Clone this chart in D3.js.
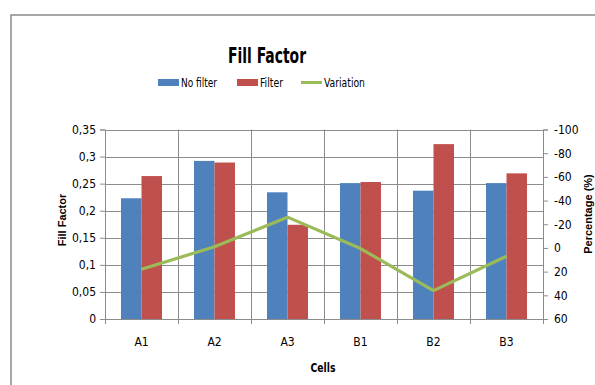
<!DOCTYPE html>
<html><head><meta charset="utf-8">
<script src="https://cdn.jsdelivr.net/npm/d3@7"></script>
<style>
html,body{margin:0;padding:0;background:#fff;}
svg{display:block;}
text{font-family:"Liberation Sans Narrow","DejaVu Sans Condensed","Liberation Sans",sans-serif;fill:#000;}
</style></head>
<body>
<svg id="c" width="595" height="385"></svg>
<script>
const categories = ["A1","A2","A3","B1","B2","B3"];
const noFilter = [0.223,0.292,0.234,0.251,0.237,0.251];
const filter = [0.264,0.289,0.174,0.253,0.323,0.269];
const variation = [18,-1,-26,0.5,36,7];
const leftTicks = [0,0.05,0.1,0.15,0.2,0.25,0.3,0.35];
const leftTickLabels = ["0","0,05","0,1","0,15","0,2","0,25","0,3","0,35"];
const rightTicks = [-100,-80,-60,-40,-20,0,20,40,60];
const seriesNames = ["No filter","Filter","Variation"];

const svg = d3.select("#c");
const L=105, R=543, T=129.5, B=319;
const blue="#4F81BD", red="#C0504D", green="#9BBB59", grid="#8c8c8c";

// frame
svg.append("path").attr("d","M11,385 L11,15 L600,15").attr("fill","none").attr("stroke","#8a8a8a").attr("stroke-width",1.5);

const x0 = d3.scaleBand().domain(categories).range([L,R]).paddingInner(0.438).paddingOuter(0.219);
const x1 = d3.scaleBand().domain([0,1]).range([0,x0.bandwidth()]);
const y = d3.scaleLinear().domain([0,0.35]).range([B,T]);
const yR = d3.scaleLinear().domain([-100,60]).range([T,B]);
const step = (R-L)/categories.length;

// horizontal gridlines
svg.append("g").selectAll("line").data(leftTicks.slice(1)).join("line")
  .attr("x1",L).attr("x2",R).attr("y1",d=>Math.round(y(d))+0.5).attr("y2",d=>Math.round(y(d))+0.5)
  .attr("stroke",grid).attr("stroke-width",1);
// vertical gridlines
svg.append("g").selectAll("line").data(d3.range(1,categories.length)).join("line")
  .attr("x1",i=>Math.round(L+i*step)+0.5).attr("x2",i=>Math.round(L+i*step)+0.5).attr("y1",T).attr("y2",B)
  .attr("stroke",grid).attr("stroke-width",1);

// bars
const g = svg.append("g");
categories.forEach((c,i)=>{
  [noFilter[i],filter[i]].forEach((v,j)=>{
    g.append("rect").attr("x",x0(c)+x1(j)).attr("width",x1.bandwidth())
     .attr("y",y(v)).attr("height",B-y(v)).attr("fill",j?red:blue);
  });
});

// axes
const ax = svg.append("g").attr("transform",`translate(${L},0)`)
  .call(d3.axisLeft(y).tickValues(leftTicks).tickFormat((d,i)=>leftTickLabels[i]).tickSize(5).tickPadding(4));
const axR = svg.append("g").attr("transform",`translate(${R},0)`)
  .call(d3.axisRight(yR).tickValues(rightTicks).tickSize(5).tickPadding(6).tickFormat(d=>d));
const xb = d3.scaleLinear().domain([0,categories.length]).range([L,R]);
const axB = svg.append("g").attr("transform",`translate(0,${B})`)
  .call(d3.axisBottom(xb).tickValues(d3.range(0,categories.length+1)).tickSize(5).tickFormat(""));
[ax,axR,axB].forEach(a=>{
  a.selectAll("path.domain").attr("stroke",grid).attr("stroke-width",1);
  a.selectAll(".tick line").attr("stroke",grid);
  a.selectAll("text").style("font-size","12px").attr("fill","#000");
});
axR.selectAll("text").attr("text-anchor","start");
// x labels
svg.append("g").selectAll("text").data(categories).join("text")
  .attr("x",c=>x0(c)+x0.bandwidth()/2).attr("y",346).attr("text-anchor","middle")
  .style("font-size","12px").text(d=>d);

// variation line
const line = d3.line().x((d,i)=>x0(categories[i])+x0.bandwidth()/2).y(d=>yR(d));
svg.append("path").datum(variation).attr("d",line).attr("fill","none")
  .attr("stroke",green).attr("stroke-width",3.2).attr("stroke-linejoin","round");

// titles
svg.append("text").attr("x",267).attr("y",63).attr("text-anchor","middle")
  .attr("textLength",78).attr("lengthAdjust","spacingAndGlyphs")
  .style("font-size","21px").style("font-weight","bold").text("Fill Factor");
svg.append("text").attr("transform","translate(66,220) rotate(-90)").attr("text-anchor","middle")
  .style("font-family","'Liberation Sans',Arial,sans-serif").style("font-size","11px").style("font-weight","bold").text("Fill Factor");
svg.append("text").attr("transform","translate(592,214) rotate(-90)").attr("text-anchor","middle")
  .style("font-family","'Liberation Sans',Arial,sans-serif").style("font-size","11px").style("font-weight","bold").text("Percentage (%)");
svg.append("text").attr("x",323).attr("y",372).attr("text-anchor","middle")
  .attr("textLength",25).attr("lengthAdjust","spacingAndGlyphs")
  .style("font-size","12.5px").style("font-weight","bold").text("Cells");

// legend
const leg = svg.append("g");
const legX = [158,237,301];
const legW = [36,23,41];
seriesNames.forEach((n,i)=>{
  if(i<2) leg.append("rect").attr("x",legX[i]).attr("y",79).attr("width",21).attr("height",7).attr("fill",i?red:blue);
  else leg.append("line").attr("x1",legX[i]).attr("x2",legX[i]+21).attr("y1",82.5).attr("y2",82.5).attr("stroke",green).attr("stroke-width",3);
  leg.append("text").attr("x",legX[i]+23).attr("y",87)
    .attr("textLength",legW[i]).attr("lengthAdjust","spacingAndGlyphs")
    .style("font-size","12.5px").text(n);
});
</script>
</body></html>
